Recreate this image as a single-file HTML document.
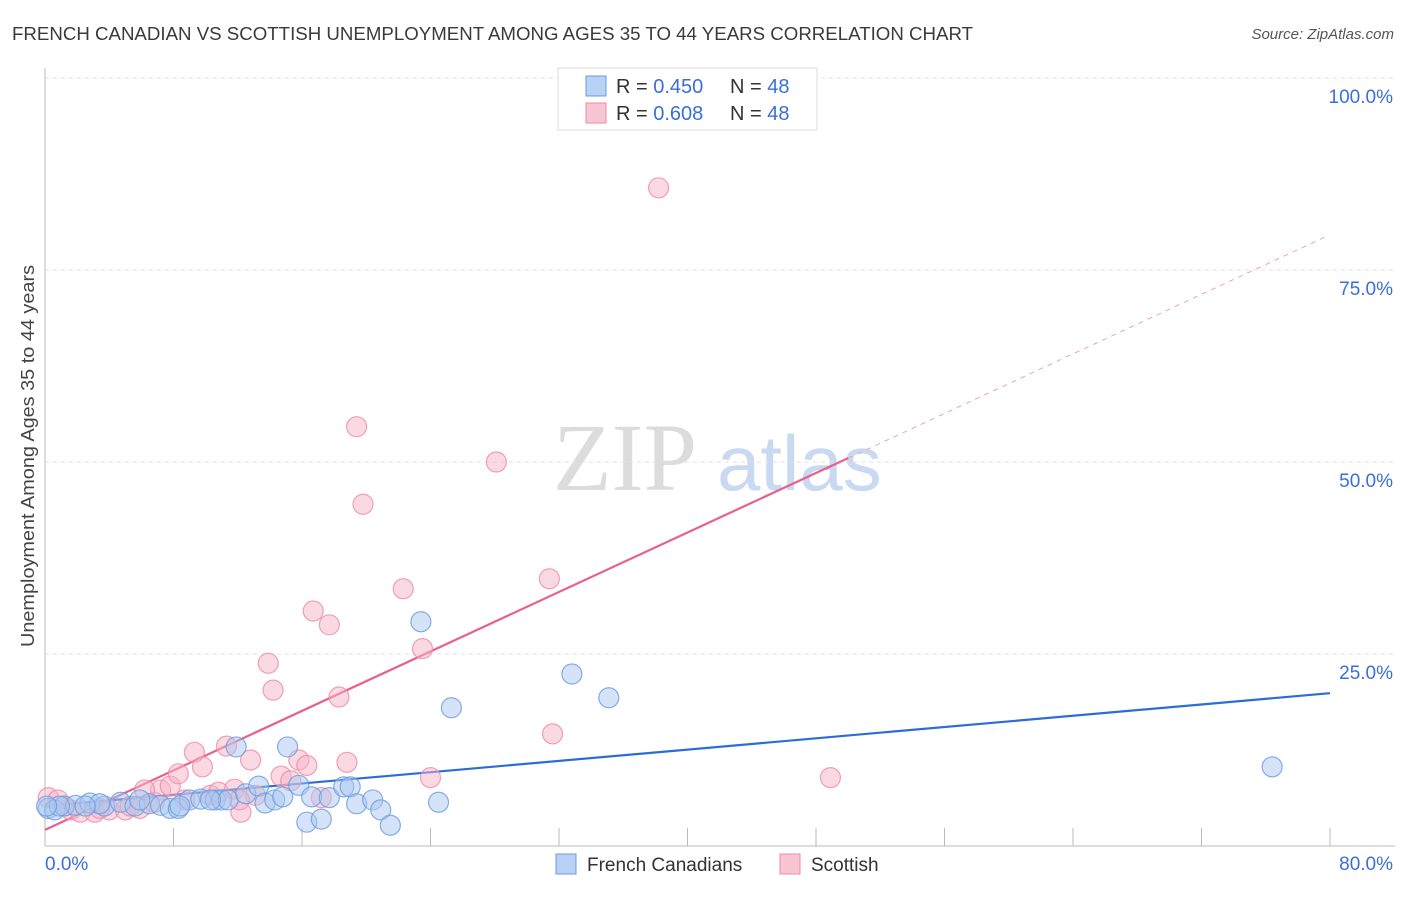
<!DOCTYPE html>
<html><head><meta charset="utf-8"><style>
body{margin:0;background:#fff;font-family:"Liberation Sans",sans-serif;}
</style></head><body>
<svg id="chart" width="1406" height="892" xmlns="http://www.w3.org/2000/svg" style="font-family:'Liberation Sans',sans-serif">
<text x="12" y="40" font-size="18" fill="#3a3a3a" textLength="961" lengthAdjust="spacingAndGlyphs">FRENCH CANADIAN VS SCOTTISH UNEMPLOYMENT AMONG AGES 35 TO 44 YEARS CORRELATION CHART</text>
<text x="1394" y="39" font-size="15" fill="#555" font-style="italic" text-anchor="end">Source: ZipAtlas.com</text>
<g>
<text x="553" y="490" font-size="96" font-family="'Liberation Serif',serif" fill="#dcdcdc">ZIP</text>
<text x="717" y="490" font-size="78" fill="#c9d9f2">atlas</text>
</g>
<g id="grid"></g>
<g id="axes"></g>
<g id="trends"></g>
<g id="points"></g>
<text transform="translate(34,456) rotate(-90)" font-size="18" fill="#444" text-anchor="middle" textLength="382" lengthAdjust="spacingAndGlyphs">Unemployment Among Ages 35 to 44 years</text>
<g>
<rect x="558" y="68" width="259" height="62" fill="#fff" stroke="#ddd"/>
<rect x="586" y="76" width="20" height="20" fill="#b8d2f5" stroke="#6a9be0"/>
<rect x="586" y="103" width="20" height="20" fill="#f8c5d4" stroke="#ee8aa8"/>
<text x="616" y="93" font-size="20" fill="#333">R = <tspan fill="#3a6fd8">0.450</tspan><tspan x="730">N = </tspan><tspan fill="#3a6fd8">48</tspan></text>
<text x="616" y="120" font-size="20" fill="#333">R = <tspan fill="#3a6fd8">0.608</tspan><tspan x="730">N = </tspan><tspan fill="#3a6fd8">48</tspan></text>
</g>
<g>
<rect x="556" y="854" width="20" height="20" fill="#b8d2f5" stroke="#6a9be0"/>
<text x="587" y="871" font-size="19" fill="#333">French Canadians</text>
<rect x="780" y="854" width="20" height="20" fill="#f8c5d4" stroke="#ee8aa8"/>
<text x="811" y="871" font-size="19" fill="#333">Scottish</text>
</g>
</svg>
<script>
const blueX=[0.2,0.6,1.2,1.9,2.8,3.7,4.7,5.6,6.5,7.2,7.8,8.3,9.0,9.7,10.6,11.0,11.4,11.9,12.5,13.3,13.7,14.3,14.8,15.1,15.8,16.3,16.6,17.2,17.7,18.6,19.0,19.4,20.4,20.9,21.5,23.4,24.5,25.3,32.8,35.1,76.4,5.9,3.4,8.4,10.3,0.9,2.5,0.1];
const blueY=[4.9,4.7,5.2,5.3,5.6,5.2,5.7,5.2,5.5,5.3,4.9,4.9,6.0,6.1,6.0,6.0,6.0,12.9,6.8,7.8,5.6,6.0,6.4,12.9,7.9,3.1,6.4,3.5,6.3,7.7,7.7,5.5,6.0,4.7,2.7,29.2,5.7,18.0,22.4,19.3,10.3,6.0,5.5,5.2,6.0,5.2,5.2,5.2];
const pinkX=[0.2,0.8,1.6,2.2,3.1,4.0,5.0,5.9,6.8,7.2,7.8,8.3,9.3,9.8,10.3,10.8,11.3,11.8,12.2,12.8,13.1,13.9,14.2,14.7,15.3,15.8,16.3,16.7,17.2,17.7,18.3,18.8,19.4,19.8,22.3,23.5,24.0,28.1,31.4,31.6,38.2,48.9,5.3,6.2,3.4,8.7,1.2,12.1];
const pinkY=[6.3,6.0,4.7,4.4,4.4,4.7,4.7,4.9,5.7,7.3,7.8,9.4,12.2,10.3,6.6,7.0,13.0,7.4,4.4,11.2,6.6,23.8,20.3,9.1,8.5,11.2,10.5,30.6,6.3,28.8,19.4,10.9,54.6,44.5,33.5,25.7,8.9,50.0,34.8,14.6,85.7,8.9,5.2,7.3,4.9,6.0,5.2,6.0];
const yTicks=[25,50,75,100];
const yTickLabels=["25.0%","50.0%","75.0%","100.0%"];
const xTickVals=[8,16,24,32,40,48,56,64,72,80];
const blueTrend=[[0,5.2],[80,19.9]];
const pinkTrend=[[0,2.1],[50,50.5]];
const pinkDash=[[50,50.5],[79.7,79.3]];

const NS="http://www.w3.org/2000/svg";
const X=v=>45+v*1285/80, Y=v=>846-v*7.68;
function mk(tag,attrs,parent){const e=document.createElementNS(NS,tag);for(const k in attrs)e.setAttribute(k,attrs[k]);document.getElementById(parent).appendChild(e);return e;}
yTicks.forEach((t,i)=>{
  const l=mk('line',{x1:45,x2:1395,y1:Y(t),y2:Y(t),stroke:'#e2e2e2','stroke-dasharray':'4,4'},'grid');
  
  
  const tx=mk('text',{x:1393,y:Y(t)+25,'font-size':19,fill:'#3a6fd8','text-anchor':'end'},'grid');
  tx.textContent=yTickLabels[i];
  
  
});
const ax=mk('line',{x1:45,x2:45,y1:68,y2:846,stroke:'#bbb'},'axes');


const bx=mk('line',{x1:45,x2:1395,y1:846,y2:846,stroke:'#bbb'},'axes');


xTickVals.forEach(t=>{
  const l=mk('line',{x1:X(t),x2:X(t),y1:828,y2:846,stroke:'#bbb'},'axes');
  
  
});
const x0=mk('text',{x:45,y:870,'font-size':19,fill:'#3a6fd8'},'axes');x0.textContent='0.0%';


const x1=mk('text',{x:1393,y:870,'font-size':19,fill:'#3a6fd8','text-anchor':'end'},'axes');x1.textContent='80.0%';


function pts(xs,ys,fill,stroke,name){xs.forEach((v,i)=>{
  const c=mk('circle',{cx:X(v),cy:Y(ys[i]),r:10,fill:fill,'fill-opacity':0.5,stroke:stroke,'stroke-opacity':0.8,'stroke-width':1.2},'points');
  
  
});}
pts(pinkX,pinkY,'#f5b3c6','#ee8aa8','scottish-point');
pts(blueX,blueY,'#a9c8f0','#6a9be0','french-canadian-point');
function ln(d,col,dash,name){const l=mk('line',{x1:X(d[0][0]),y1:Y(d[0][1]),x2:X(d[1][0]),y2:Y(d[1][1]),stroke:col,'stroke-width':dash?1:2.2,'stroke-dasharray':dash?'5,5':'none'},'trends');
  
  }
ln(blueTrend,'#2a6dd6',false,'french-canadian-trendline');
ln(pinkTrend,'#e8608e',false,'scottish-trendline');
ln(pinkDash,'#f0a0b8',true,'scottish-trendline-extension');
</script>
</body></html>
